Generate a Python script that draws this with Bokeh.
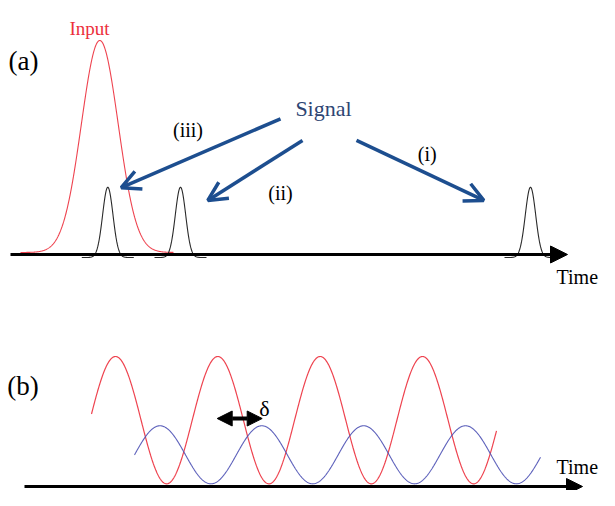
import numpy as np
from bokeh.plotting import figure
from bokeh.layouts import column
from bokeh.models import Range1d, Arrow, OpenHead, NormalHead
from bokeh.core.properties import value
from bokeh.embed import file_html
from bokeh.resources import INLINE

# ---------------- data (arbitrary time / amplitude units) ----------------
# panel (a): input pulse and three delayed signal pulses
pulse_labels = ["Input", "(iii)", "(ii)", "(i)"]
pulse_center = [9.93, 10.73, 18.0, 53.0]
pulse_sigma = [1.84, 0.52, 0.52, 0.52]
pulse_height = [1.0, 0.317, 0.317, 0.317]

# panel (b): input and signal modulations
red_peak_times = [11.5, 21.8, 32.0, 42.2]
red_span = [9.1, 49.6]
red_level = [0.021, 1.021]          # trough, crest
blue_peak_times = [15.95, 26.17, 36.27, 46.5]
blue_span = [13.4, 54.0]
blue_level = [0.021, 0.477]

FONT = value("Liberation Serif")
RED = "#ec2f3c"
BLUE_ARROW = "#1d4e8f"
NAVY = "#2d4573"
WAVE_BLUE = "#4b50b4"

W = 599

def base_fig(h, yr):
    p = figure(width=W, height=h, x_range=Range1d(0, 59.9), y_range=Range1d(*yr),
               output_backend="svg", toolbar_location=None, min_border=0)
    p.axis.visible = False
    p.grid.visible = False
    p.outline_line_color = None
    p.background_fill_color = "white"
    p.border_fill_color = "white"
    return p

# ---------------- panel (a) ----------------
pa = base_fig(288, (-0.1604, 1.198))

# input pulse (red)
t_in = np.linspace(2.0, 17.3, 400)
y_in = 0.0094 + pulse_height[0] * np.exp(-0.5 * ((t_in - pulse_center[0]) / pulse_sigma[0]) ** 2)
pa.line(t_in, y_in, line_color=RED, line_width=1.1, line_alpha=0.9)

# signal pulses (black)
for c, s, h in zip(pulse_center[1:], pulse_sigma[1:], pulse_height[1:]):
    t = np.linspace(c - 2.6, c + 2.6, 200)
    y = -0.0142 + (h + 0.0142) * np.exp(-0.5 * ((t - c) / s) ** 2)
    pa.line(t, y, line_color="#2a2a2a", line_width=1.1)

# time axis
pa.add_layout(Arrow(end=NormalHead(size=17, fill_color="black", line_color="black"),
                    x_start=1.0, y_start=0, x_end=56.7, y_end=0,
                    line_color="black", line_width=3))

# blue arrows from "Signal"
arrows_a = [((28.0, 0.640), (12.07, 0.315)),
            ((30.2, 0.538), (20.73, 0.255)),
            ((35.6, 0.538), (48.33, 0.255))]
for (xs, ys), (xe, ye) in arrows_a:
    pa.add_layout(Arrow(end=OpenHead(size=19, line_color=BLUE_ARROW, line_width=3.5),
                        x_start=xs, y_start=ys, x_end=xe, y_end=ye,
                        line_color=BLUE_ARROW, line_width=3.5))

pa.text(x=[0.8], y=[0.915], text=["(a)"], text_font=FONT, text_font_size=value("27px"),
        text_color="black", text_align="left", text_baseline="alphabetic")
pa.text(x=[8.9], y=[1.066], text=[pulse_labels[0]], text_font=FONT, text_font_size=value("19px"),
        text_color=RED, text_align="center", text_baseline="alphabetic")
pa.text(x=[32.3], y=[0.689], text=["Signal"], text_font=FONT, text_font_size=value("22px"),
        text_color=NAVY, text_align="center", text_baseline="alphabetic")
pa.text(x=[18.75, 28.0, 42.67], y=[0.585, 0.288, 0.476], text=pulse_labels[1:],
        text_font=FONT, text_font_size=value("20px"), text_color="black",
        text_align="center", text_baseline="alphabetic")
pa.text(x=[55.6], y=[-0.104], text=["Time"], text_font=FONT, text_font_size=value("20px"),
        text_color="black", text_align="left", text_baseline="alphabetic")

# ---------------- panel (b) ----------------
pb = base_fig(202, (-0.0314, 1.555))

def wave(peaks, span, level, n=800):
    T = float(np.mean(np.diff(peaks)))
    t = np.linspace(span[0], span[1], n)
    y = level[0] + (level[1] - level[0]) * 0.5 * (1 + np.cos(2 * np.pi * (t - peaks[0]) / T))
    return t, y

tr, yr_ = wave(red_peak_times, red_span, red_level)
pb.line(tr, yr_, line_color=RED, line_width=1.2, line_alpha=0.9)
tb, yb = wave(blue_peak_times, blue_span, blue_level)
pb.line(tb, yb, line_color=WAVE_BLUE, line_width=1.1, line_alpha=0.9)

pb.add_layout(Arrow(end=NormalHead(size=16, fill_color="black", line_color="black"),
                    x_start=2.4, y_start=0, x_end=58.2, y_end=0,
                    line_color="black", line_width=3))

# delta: delay between input crest and signal crest
pb.add_layout(Arrow(start=NormalHead(size=15, fill_color="black", line_color="black"),
                    end=NormalHead(size=15, fill_color="black", line_color="black"),
                    x_start=red_peak_times[1] - 0.13, y_start=0.534,
                    x_end=blue_peak_times[1], y_end=0.534,
                    line_color="black", line_width=4))

pb.text(x=[0.67], y=[0.793], text=["(b)"], text_font=FONT, text_font_size=value("27px"),
        text_color="black", text_align="left", text_baseline="alphabetic")
pb.text(x=[26.4], y=[0.613], text=["δ"], text_font=FONT, text_font_size=value("22px"),
        text_color="black", text_align="center", text_baseline="alphabetic")
pb.text(x=[55.6], y=[0.15], text=["Time"], text_font=FONT, text_font_size=value("20px"),
        text_color="black", text_align="left", text_baseline="alphabetic")

layout = column(pa, pb)
open("out.html", "w").write(file_html(layout, INLINE))
